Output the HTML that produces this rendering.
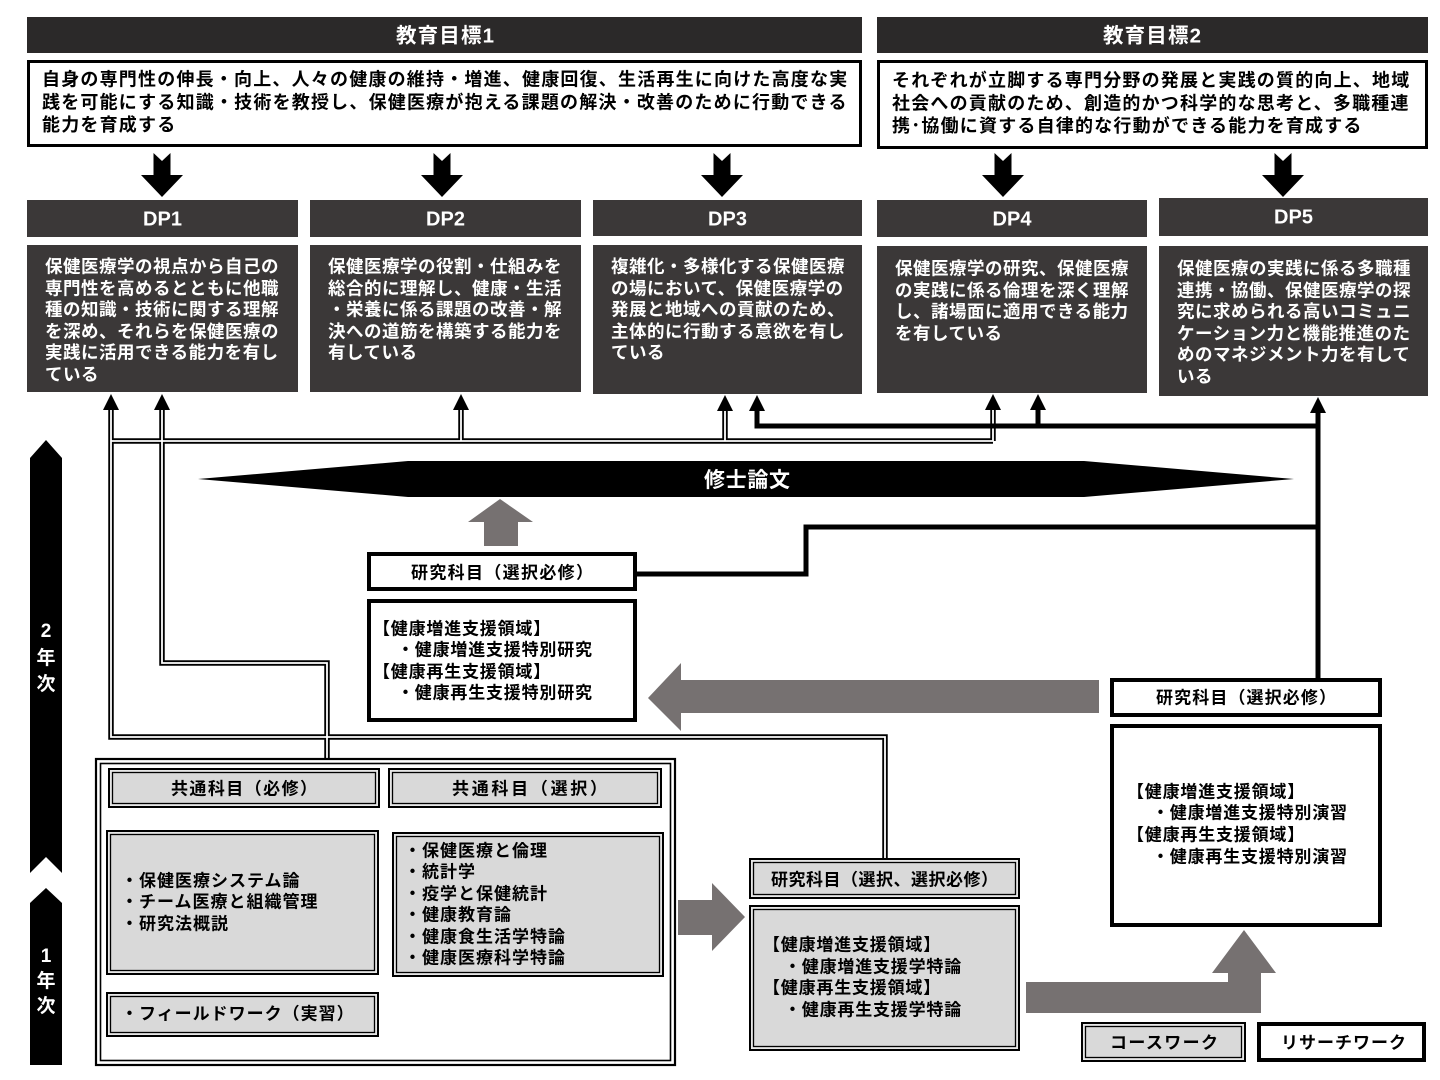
<!DOCTYPE html>
<html><head><meta charset="utf-8">
<style>
html,body{margin:0;padding:0;background:#fff;}
svg{display:block;}
text{font-family:"Liberation Sans","Noto Sans CJK JP",sans-serif;font-weight:700;fill:#000;}
.w{fill:#fff;}
.hd{font-size:20.5px;}
.dph{font-size:20px;fill:#fff;}
.dp{font-size:17.5px;letter-spacing:0.5px;fill:#fff;}
.ob{font-size:18px;letter-spacing:1.2px;}
.b16{font-size:17px;letter-spacing:0.8px;}
.l16{font-size:17px;letter-spacing:1px;}
.h16{font-size:17px;}
.yr{font-size:19px;fill:#fff;}
</style></head>
<body>
<svg width="1440" height="1080" viewBox="0 0 1440 1080" xmlns="http://www.w3.org/2000/svg">
<rect width="1440" height="1080" fill="#fff"/>

<!-- Top headers -->
<rect x="27" y="17" width="835" height="36" fill="#2b2929"/>
<rect x="877" y="17" width="551" height="36" fill="#2b2929"/>
<text class="hd w" x="396" y="42.5" textLength="98">教育目標1</text>
<text class="hd w" x="1103" y="42.5" textLength="98">教育目標2</text>

<!-- Objective boxes -->
<rect x="28.5" y="61.5" width="832" height="84" fill="none" stroke="#000" stroke-width="3"/>
<rect x="878.5" y="61.5" width="548" height="86" fill="none" stroke="#000" stroke-width="3"/>
<text class="ob" x="42" y="85.5">自身の専門性の伸長・向上、人々の健康の維持・増進、健康回復、生活再生に向けた高度な実</text>
<text class="ob" x="42" y="108.5">践を可能にする知識・技術を教授し、保健医療が抱える課題の解決・改善のために行動できる</text>
<text class="ob" x="42" y="131">能力を育成する</text>
<text class="ob" x="892" y="86.5">それぞれが立脚する専門分野の発展と実践の質的向上、地域</text>
<text class="ob" x="892" y="109.5">社会への貢献のため、創造的かつ科学的な思考と、多職種連</text>
<text class="ob" x="892" y="132">携･協働に資する自律的な行動ができる能力を育成する</text>

<!-- Down arrows -->
<g fill="#000">
<polygon points="153.5,153 162,161 170.5,153 170.5,175 183,175 162,197 141,175 153.5,175"/>
<polygon points="433.5,153 442,161 450.5,153 450.5,175 463,175 442,197 421,175 433.5,175"/>
<polygon points="713.5,153 722,161 730.5,153 730.5,175 743,175 722,197 701,175 713.5,175"/>
<polygon points="994.5,153 1003,161 1011.5,153 1011.5,175 1024,175 1003,197 982,175 994.5,175"/>
<polygon points="1274.5,153 1283,161 1291.5,153 1291.5,175 1304,175 1283,197 1262,175 1274.5,175"/>
</g>

<!-- DP headers -->
<g fill="#3b3838">
<rect x="27" y="200" width="271" height="37"/>
<rect x="310" y="200" width="271" height="37"/>
<rect x="593" y="200" width="269" height="36"/>
<rect x="877" y="200" width="270" height="37"/>
<rect x="1159" y="198" width="269" height="38"/>
<rect x="27" y="245" width="271" height="147"/>
<rect x="310" y="245" width="271" height="147"/>
<rect x="593" y="245" width="269" height="149"/>
<rect x="877" y="246" width="270" height="147"/>
<rect x="1159" y="246" width="269" height="150"/>
</g>
<text class="dph" x="162.5" y="225.5" text-anchor="middle">DP1</text>
<text class="dph" x="445.5" y="225.5" text-anchor="middle">DP2</text>
<text class="dph" x="727.5" y="225.5" text-anchor="middle">DP3</text>
<text class="dph" x="1012" y="225.5" text-anchor="middle">DP4</text>
<text class="dph" x="1293.5" y="223.5" text-anchor="middle">DP5</text>

<!-- DP1 -->
<text class="dp" x="45" y="272.5">保健医療学の視点から自己の</text>
<text class="dp" x="45" y="294.5">専門性を高めるとともに他職</text>
<text class="dp" x="45" y="315.5">種の知識・技術に関する理解</text>
<text class="dp" x="45" y="337.5">を深め、それらを保健医療の</text>
<text class="dp" x="45" y="358.5">実践に活用できる能力を有し</text>
<text class="dp" x="45" y="380.5">ている</text>
<!-- DP2 -->
<text class="dp" x="328" y="272.5">保健医療学の役割・仕組みを</text>
<text class="dp" x="328" y="294.5">総合的に理解し、健康・生活</text>
<text class="dp" x="328" y="315.5">・栄養に係る課題の改善・解</text>
<text class="dp" x="328" y="337.5">決への道筋を構築する能力を</text>
<text class="dp" x="328" y="358.5">有している</text>
<!-- DP3 -->
<text class="dp" x="611" y="272.5">複雑化・多様化する保健医療</text>
<text class="dp" x="611" y="294.5">の場において、保健医療学の</text>
<text class="dp" x="611" y="315.5">発展と地域への貢献のため、</text>
<text class="dp" x="611" y="337.5">主体的に行動する意欲を有し</text>
<text class="dp" x="611" y="358.5">ている</text>
<!-- DP4 -->
<text class="dp" x="895" y="274.5">保健医療学の研究、保健医療</text>
<text class="dp" x="895" y="296.5">の実践に係る倫理を深く理解</text>
<text class="dp" x="895" y="317.5">し、諸場面に適用できる能力</text>
<text class="dp" x="895" y="339.5">を有している</text>
<!-- DP5 -->
<text class="dp" x="1177" y="274.5">保健医療の実践に係る多職種</text>
<text class="dp" x="1177" y="296.5">連携・協働、保健医療学の探</text>
<text class="dp" x="1177" y="317.5">究に求められる高いコミュニ</text>
<text class="dp" x="1177" y="339.5">ケーション力と機能推進のた</text>
<text class="dp" x="1177" y="360.5">めのマネジメント力を有して</text>
<text class="dp" x="1177" y="382.5">いる</text>

<!-- Double connector lines -->
<g fill="none" stroke="#000" stroke-width="5.5">
<path d="M111,408 V737 H885 V858"/>
<path d="M111,441 H993"/>
<path d="M461,408 V441"/>
<path d="M725,408 V441"/>
<path d="M993,408 V441"/>
<path d="M162,408 V663 H327 V758"/>
</g>
<g fill="none" stroke="#fff" stroke-width="1.8">
<path d="M111,408 V737 H885 V858"/>
<path d="M111,441 H993"/>
<path d="M461,408 V441"/>
<path d="M725,408 V441"/>
<path d="M993,408 V441"/>
<path d="M162,408 V663 H327 V758"/>
</g>

<!-- Thick connector lines -->
<g fill="none" stroke="#000" stroke-width="5">
<path d="M757,408 V426 H1318"/>
<path d="M1038,408 V426"/>
<path d="M1318,408 V680"/>
<path d="M637,574 H806 V527 H1318"/>
</g>

<!-- Arrowheads -->
<g fill="#000">
<polygon points="103,410 111,394 119,410"/>
<polygon points="154,410 162,394 170,410"/>
<polygon points="453,410 461,394 469,410"/>
<polygon points="717,411 725,395 733,411"/>
<polygon points="749,411 757,395 765,411"/>
<polygon points="985,410 993,394 1001,410"/>
<polygon points="1030,410 1038,394 1046,410"/>
<polygon points="1310,413 1318,397 1326,413"/>
</g>

<!-- Master thesis banner -->
<polygon points="198,479 408,461 1084,461 1294,479 1084,497 408,497" fill="#000"/>
<text class="w" x="704" y="487" font-size="21" textLength="86">修士論文</text>

<!-- Gray up arrow -->
<polygon points="500,499 533,522 518,522 518,546 484,546 484,522 468,522" fill="#767171"/>

<!-- Left research boxes -->
<rect x="369" y="554" width="266" height="35" fill="#fff" stroke="#000" stroke-width="4"/>
<text class="h16" x="411" y="578.5" textLength="182">研究科目（選択必修）</text>
<rect x="369" y="601" width="266" height="119" fill="#fff" stroke="#000" stroke-width="4"/>
<text class="b16" x="373" y="634.5">【健康増進支援領域】</text>
<text class="b16" x="397" y="655.5">・健康増進支援特別研究</text>
<text class="b16" x="373" y="677.5">【健康再生支援領域】</text>
<text class="b16" x="397" y="698.5">・健康再生支援特別研究</text>

<!-- Big left arrow -->
<polygon points="648,698 681,663 681,680 1099,680 1099,713 681,713 681,731" fill="#767171"/>

<!-- Right research boxes -->
<rect x="1112" y="680" width="268" height="35" fill="#fff" stroke="#000" stroke-width="4"/>
<text class="h16" x="1156" y="703.5" textLength="180">研究科目（選択必修）</text>
<rect x="1112" y="726" width="268" height="199" fill="#fff" stroke="#000" stroke-width="4"/>
<text class="b16" x="1127" y="797.5">【健康増進支援領域】</text>
<text class="b16" x="1152" y="818.5">・健康増進支援特別演習</text>
<text class="b16" x="1127" y="840.5">【健康再生支援領域】</text>
<text class="b16" x="1152" y="862.5">・健康再生支援特別演習</text>

<!-- Year strips -->
<polygon points="30,458 46,440 62,458 62,873 46,857 30,873" fill="#000"/>
<polygon points="30,903 46,888 62,903 62,1065 30,1065" fill="#000"/>
<text class="yr" x="46" y="637" text-anchor="middle">2</text>
<text class="yr" x="46" y="664" text-anchor="middle">年</text>
<text class="yr" x="46" y="690" text-anchor="middle">次</text>
<text class="yr" x="46" y="962" text-anchor="middle">1</text>
<text class="yr" x="46" y="987" text-anchor="middle">年</text>
<text class="yr" x="46" y="1012" text-anchor="middle">次</text>

<!-- 1st year outer box -->
<rect x="96" y="759" width="579" height="306" fill="#fff" stroke="#000" stroke-width="2.2"/>
<rect x="100.5" y="763.5" width="570" height="297" fill="none" stroke="#000" stroke-width="1.6"/>

<!-- gray double boxes -->
<g stroke="#000">
<rect x="109" y="769" width="270" height="38" fill="#e6e6e6" stroke-width="2"/>
<rect x="112.5" y="772.5" width="263" height="31" fill="#d9d9d9" stroke-width="1.3"/>
<rect x="389" y="769" width="272" height="38" fill="#e6e6e6" stroke-width="2"/>
<rect x="392.5" y="772.5" width="265" height="31" fill="#d9d9d9" stroke-width="1.3"/>
<rect x="107" y="831" width="271" height="143" fill="#e6e6e6" stroke-width="2"/>
<rect x="110.5" y="834.5" width="264" height="136" fill="#d9d9d9" stroke-width="1.3"/>
<rect x="393" y="833" width="270" height="143" fill="#e6e6e6" stroke-width="2"/>
<rect x="396.5" y="836.5" width="263" height="136" fill="#d9d9d9" stroke-width="1.3"/>
<rect x="107" y="993" width="271" height="43" fill="#e6e6e6" stroke-width="2"/>
<rect x="110.5" y="996.5" width="264" height="36" fill="#d9d9d9" stroke-width="1.3"/>
<rect x="750" y="859" width="269" height="39" fill="#e6e6e6" stroke-width="2"/>
<rect x="753.5" y="862.5" width="262" height="32" fill="#d9d9d9" stroke-width="1.3"/>
<rect x="750" y="906" width="269" height="144" fill="#e6e6e6" stroke-width="2"/>
<rect x="753.5" y="909.5" width="262" height="137" fill="#d9d9d9" stroke-width="1.3"/>
<rect x="1082" y="1023" width="163" height="38" fill="#e6e6e6" stroke-width="2"/>
<rect x="1085.5" y="1026.5" width="156" height="31" fill="#d9d9d9" stroke-width="1.3"/>
</g>

<text class="h16" x="171" y="794.5" textLength="146">共通科目（必修）</text>
<text class="h16" x="452" y="794.5" textLength="155">共通科目（選択）</text>

<text class="l16" x="121" y="886.5">・保健医療システム論</text>
<text class="l16" x="121" y="907.5">・チーム医療と組織管理</text>
<text class="l16" x="121" y="929.5">・研究法概説</text>

<text class="l16" x="404" y="856.5">・保健医療と倫理</text>
<text class="l16" x="404" y="877.5">・統計学</text>
<text class="l16" x="404" y="899.5">・疫学と保健統計</text>
<text class="l16" x="404" y="920.5">・健康教育論</text>
<text class="l16" x="404" y="942.5">・健康食生活学特論</text>
<text class="l16" x="404" y="963.5">・健康医療科学特論</text>

<text class="l16" x="121" y="1019.5">・フィールドワーク（実習）</text>

<!-- Right gray arrow -->
<polygon points="678,900 712,900 712,883 745,917 712,951 712,935 678,935" fill="#767171"/>

<!-- research (選択、選択必修) -->
<text class="h16" x="771" y="885.5" textLength="227">研究科目（選択、選択必修）</text>
<text class="b16" x="763" y="950.5">【健康増進支援領域】</text>
<text class="b16" x="784" y="972.5">・健康増進支援学特論</text>
<text class="b16" x="763" y="993.5">【健康再生支援領域】</text>
<text class="b16" x="784" y="1015.5">・健康再生支援学特論</text>

<!-- Bent arrow -->
<polygon points="1026,982 1228,982 1228,973 1212,973 1244,930 1276,973 1261,973 1261,1013 1026,1013" fill="#767171"/>

<!-- Legend -->
<text class="h16" x="1110" y="1048.5" textLength="108">コースワーク</text>
<rect x="1259" y="1024" width="165" height="36" fill="#fff" stroke="#000" stroke-width="4"/>
<text class="h16" x="1281" y="1048.5" textLength="125">リサーチワーク</text>
</svg>
</body></html>
